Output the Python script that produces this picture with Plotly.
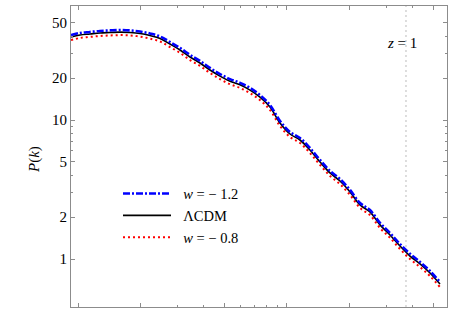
import plotly.graph_objects as go

# wavenumber k (h/Mpc)
k = [0.00926, 0.01022, 0.01141, 0.01274, 0.01423, 0.01589, 0.01773, 0.01981, 0.02211, 0.02469,
     0.02755, 0.03076, 0.03435, 0.03834, 0.04280, 0.04779, 0.05337, 0.05959, 0.06653, 0.07427,
     0.08293, 0.09259, 0.1034, 0.1154, 0.1288, 0.1439, 0.1606, 0.1793, 0.2002, 0.2235,
     0.2495, 0.2786, 0.3111, 0.3473, 0.3877, 0.4329, 0.4833, 0.5396]

P_w12 = [40.9, 42.3, 43.0, 43.7, 44.1, 44.4, 44.1, 43.3, 41.9, 39.9,
         36.4, 33.0, 29.4, 26.6, 23.7, 21.4, 19.7, 18.5, 17.0, 15.1,
         12.8, 9.84, 8.20, 7.42, 6.29, 5.16, 4.30, 3.76, 3.14, 2.53,
         2.25, 1.82, 1.54, 1.28, 1.09, 0.952, 0.820, 0.683]

P_lcdm = [39.6, 40.9, 41.6, 42.3, 42.6, 42.9, 42.6, 41.9, 40.5, 38.6,
          35.2, 31.9, 28.4, 25.7, 22.9, 20.7, 19.0, 17.9, 16.4, 14.6,
          12.4, 9.52, 7.93, 7.18, 6.08, 4.99, 4.16, 3.64, 3.04, 2.45,
          2.18, 1.76, 1.49, 1.24, 1.05, 0.921, 0.793, 0.660]

P_w08 = [37.6, 38.9, 39.6, 40.2, 40.6, 40.8, 40.6, 39.8, 38.5, 36.7,
         33.5, 30.4, 27.0, 24.5, 21.8, 19.7, 18.1, 17.0, 15.6, 13.9,
         11.8, 9.05, 7.54, 6.83, 5.79, 4.75, 3.96, 3.46, 2.89, 2.33,
         2.07, 1.67, 1.42, 1.18, 1.00, 0.876, 0.754, 0.628]

k_marker = 0.371  # vertical dotted line
x_major = [0.01, 0.02, 0.05, 0.1, 0.2, 0.5]
x_minor = [0.03, 0.04, 0.06, 0.07, 0.08, 0.09, 0.3, 0.4]
y_major = [1, 2, 5, 10, 20, 50]
y_major_text = ["1", "2", "5", "10", "20", "50"]
y_minor = [3, 4, 6, 7, 8, 9, 30, 40]

FONT = "Liberation Serif"
AX = "#8c8c8c"
SP = "\u2002"

fig = go.Figure()
fig.add_trace(go.Scatter(x=k, y=P_w08, mode="lines", name=SP + "<i>w</i> = \u2212 0.8",
                         line=dict(color="#ff0000", width=2, dash="2px,3px", shape="spline")))
fig.add_trace(go.Scatter(x=k, y=P_lcdm, mode="lines", name=SP + "\u039bCDM",
                         line=dict(color="black", width=1.6, shape="spline")))
fig.add_trace(go.Scatter(x=k, y=P_w12, mode="lines", name=SP + "<i>w</i> = \u2212 1.2",
                         line=dict(color="#0000ff", width=2.6, dash="7px,2px,2px,2px", shape="spline")))

fig.add_shape(type="line", x0=k_marker, x1=k_marker, y0=0, y1=1, xref="x", yref="paper",
              line=dict(color="#bbbbbb", width=1, dash="2px,3px"), layer="below")

fig.add_annotation(text="<i>z</i> = 1", x=0.88, y=0.877, xref="paper", yref="paper",
                   xanchor="center", yanchor="middle",
                   showarrow=False, font=dict(family=FONT, size=15, color="black"))
fig.add_annotation(text="<i>P</i>(<i>k</i>)", x=-0.097, y=0.49, xref="paper", yref="paper",
                   xanchor="center", yanchor="middle",
                   showarrow=False, textangle=-90, font=dict(family=FONT, size=15, color="black"))

axis_common = dict(type="log", showgrid=False, zeroline=False, showline=True, linecolor=AX,
                   linewidth=1, mirror="allticks", ticks="inside", ticklen=4, tickcolor=AX,
                   tickwidth=1, tickmode="array")
fig.update_xaxes(**axis_common, range=[-2.0335, -0.2344], tickvals=x_major, showticklabels=False,
                 minor=dict(tickmode="array", tickvals=x_minor, ticks="inside", ticklen=2, tickcolor=AX))
fig.update_yaxes(**axis_common, range=[-0.3453, 1.8201], tickvals=y_major, ticktext=y_major_text,
                 tickfont=dict(family=FONT, size=15, color="black"),
                 minor=dict(tickmode="array", tickvals=y_minor, ticks="inside", ticklen=2, tickcolor=AX))

fig.update_layout(
    width=454, height=309, margin=dict(l=71, r=7, t=6, b=2),
    paper_bgcolor="white", plot_bgcolor="white",
    legend=dict(x=0.125, y=0.43, xanchor="left", yanchor="top", traceorder="reversed",
                bgcolor="rgba(0,0,0,0)", itemwidth=48,
                font=dict(family=FONT, size=14.5, color="black")),
)

fig.write_html("out.html", config={"displayModeBar": False},
               post_script="document.body.style.margin='0';document.body.style.padding='0';")
